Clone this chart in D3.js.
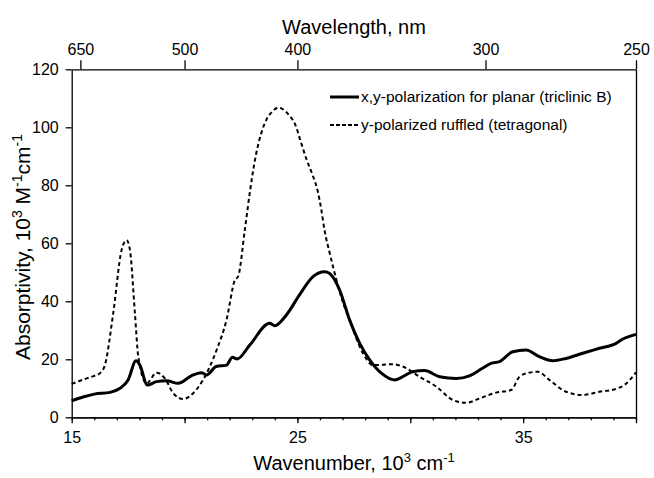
<!DOCTYPE html>
<html>
<head>
<meta charset="utf-8">
<script src="https://cdn.jsdelivr.net/npm/d3@7"></script>
<style>
  body { margin: 0; background: #fff; }
  text { font-family: "Liberation Sans", Arial, sans-serif; fill: #000; }
</style>
</head>
<body>
<div id="chart"></div>
<script>
// absorption spectra: planar vs ruffled
// =====================================

// solid: x,y-polarization for planar (triclinic B)
var wnSolid  = [15, 15.5, 16, 16.7, 17.14, 17.5, 17.85, 18.02, 18.35, 18.76, 19.2, 19.72, 20.3, 20.75, 20.97, 21.4, 21.86, 22.12, 22.33, 22.89, 23.77, 24.0, 24.51, 25.1, 25.69, 26.2, 26.43, 26.87, 27.31, 27.76, 28.2, 28.72, 29.3, 29.67, 30.1, 30.63, 31.3, 32.04, 32.62, 33.2, 33.58, 33.95, 34.54, 35.13, 35.72, 36.31, 36.9, 37.64, 38.38, 39.12, 39.4, 40];
var absSolid = [5.7, 7, 8.0, 8.6, 10.0, 12.9, 19.5, 18, 11.1, 12.3, 12.6, 11.7, 14.3, 15.4, 14.6, 17.5, 18, 20.7, 20.1, 24.9, 32.4, 31.6, 35.3, 42.3, 48.5, 50.2, 49.6, 43.9, 33.6, 25.5, 19.8, 15.2, 12.9, 14.0, 15.7, 16.1, 14.0, 13.4, 14.3, 16.9, 18.6, 19.2, 22.6, 23.2, 20.9, 19.5, 20.3, 22.1, 23.8, 25.5, 26.9, 28.6];

// dashed: y-polarized ruffled (tetragonal)
var wnDash  = [15, 15.5, 16, 16.25, 16.47, 16.84, 17.21, 17.43, 17.58, 17.8, 17.95, 18.32, 18.76, 19.13, 19.5, 19.94, 20.38, 20.82, 21.42, 21.86, 22.23, 22.37, 22.67, 22.9, 23.15, 23.4, 23.65, 23.9, 24.15, 24.4, 24.65, 24.9, 25.15, 25.4, 25.65, 25.9, 26.05, 26.2, 26.45, 26.73, 27.0, 27.31, 27.9, 28.35, 29.23, 29.67, 30.41, 31.15, 31.88, 32.48, 33.07, 33.8, 34.47, 34.84, 35.28, 35.65, 36.16, 36.9, 37.64, 38.38, 39.19, 39.48, 40];
var absDash = [11.5, 13, 14.3, 15.2, 18, 35.9, 57.7, 61.1, 57.7, 35.9, 20.9, 11.7, 15.4, 13.4, 8.3, 6.3, 8.3, 12.9, 23.2, 33.6, 47.3, 48.5, 64.6, 78, 90, 98, 103, 105.5, 106.8, 106, 104, 101, 95, 89, 84, 78, 72, 64.6, 56, 47.3, 40, 33.6, 22.1, 18, 18.3, 17.5, 14.0, 10.6, 6.0, 5.0, 6.5, 8.5, 9.4, 14.0, 15.4, 15.7, 12.9, 8.8, 7.7, 8.8, 10.0, 11.1, 15.5];

var xMajor = [15, 20, 25, 30, 35, 40];
var xLabels = [15, 25, 35];
var yTicks = [0, 20, 40, 60, 80, 100, 120];
var nmTicks = [650, 500, 400, 300, 250];

var legendNames = ["x,y-polarization for planar (triclinic B)", "y-polarized ruffled (tetragonal)"];

var width = 654,
    height = 478;
var pLeft = 71.7, pRight = 636, pTop = 69.3, pBottom = 417.3;

var svg = d3.select("#chart").append("svg")
    .attr("width", width)
    .attr("height", height);

var x = d3.scaleLinear().domain([15, 40]).range([pLeft, pRight]);
var y = d3.scaleLinear().domain([0, 120]).range([pBottom, pTop]);

// bottom axis - minor then major
svg.append("g")
    .attr("transform", "translate(0," + pBottom + ")")
    .call(d3.axisBottom(x).tickValues(d3.range(15, 41, 1)).tickSize(3).tickSizeOuter(0).tickFormat(""));
svg.append("g")
    .attr("transform", "translate(0," + pBottom + ")")
    .call(d3.axisBottom(x).tickValues(xMajor).tickSize(6).tickSizeOuter(0).tickPadding(8)
        .tickFormat(function(d) { return xLabels.indexOf(d) >= 0 ? d : ""; }));

// left axis
svg.append("g")
    .attr("transform", "translate(" + pLeft + ",0)")
    .call(d3.axisLeft(y).tickValues(yTicks).tickSize(6).tickSizeOuter(0).tickPadding(7));

// top axis in nm  (10^3 cm-1 = 1e4 / nm)
svg.append("g")
    .attr("transform", "translate(0," + pTop + ")")
    .call(d3.axisTop(x).tickValues(nmTicks.map(function(d) { return 1e4 / d; }))
        .tickSize(9).tickSizeOuter(0).tickPadding(5)
        .tickFormat(function(d) { return Math.round(1e4 / d); }));

// right border
svg.append("g")
    .attr("transform", "translate(" + pRight + ",0)")
    .call(d3.axisRight(y).tickValues([]).tickSizeOuter(0));

svg.selectAll(".domain, .tick line").attr("stroke", "#000").attr("stroke-width", 1.3);
svg.selectAll(".tick text").attr("font-size", "16px").attr("fill", "#000")
    .style("font-family", "'Liberation Sans', Arial, sans-serif");

// titles
svg.append("text")
    .attr("x", 354).attr("y", 34)
    .attr("text-anchor", "middle").attr("font-size", "20px")
    .text("Wavelength, nm");

var xt = svg.append("text")
    .attr("x", 354).attr("y", 470)
    .attr("text-anchor", "middle").attr("font-size", "20px");
xt.append("tspan").text("Wavenumber, 10");
xt.append("tspan").attr("dy", -8).attr("font-size", "13px").text("3");
xt.append("tspan").attr("dy", 8).text(" cm");
xt.append("tspan").attr("dy", -8).attr("font-size", "13px").text("-1");

var yt = svg.append("text")
    .attr("transform", "translate(30,247) rotate(-90)")
    .attr("text-anchor", "middle").attr("font-size", "21px");
yt.append("tspan").text("Absorptivity, 10");
yt.append("tspan").attr("dy", -8).attr("font-size", "14px").text("3");
yt.append("tspan").attr("dy", 8).text(" M");
yt.append("tspan").attr("dy", -8).attr("font-size", "14px").text("-1");
yt.append("tspan").attr("dy", 8).text("cm");
yt.append("tspan").attr("dy", -8).attr("font-size", "14px").text("-1");

// curves
var line = d3.line()
    .x(function(d) { return x(d[0]); })
    .y(function(d) { return y(d[1]); })
    .curve(d3.curveMonotoneX);

svg.append("path")
    .datum(d3.zip(wnDash, absDash))
    .attr("fill", "none")
    .attr("stroke", "#000")
    .attr("stroke-width", 2)
    .attr("stroke-dasharray", "4,3")
    .attr("d", line);

svg.append("path")
    .datum(d3.zip(wnSolid, absSolid))
    .attr("fill", "none")
    .attr("stroke", "#000")
    .attr("stroke-width", 3)
    .attr("stroke-linejoin", "round")
    .attr("d", line);

// legend
var leg = svg.selectAll(".leg")
    .data(legendNames)
    .enter().append("g")
    .attr("class", "leg")
    .attr("transform", function(d, i) { return "translate(330," + (97 + i * 28) + ")"; });

leg.append("line")
    .attr("x1", 0).attr("x2", 29)
    .attr("stroke", "#000")
    .attr("stroke-width", function(d, i) { return i == 0 ? 3 : 2; })
    .attr("stroke-dasharray", function(d, i) { return i == 0 ? null : "4,2"; });

leg.append("text")
    .attr("x", 31).attr("dy", "0.35em")
    .attr("font-size", "15.5px")
    .text(function(d) { return d; });
</script>
</body>
</html>
